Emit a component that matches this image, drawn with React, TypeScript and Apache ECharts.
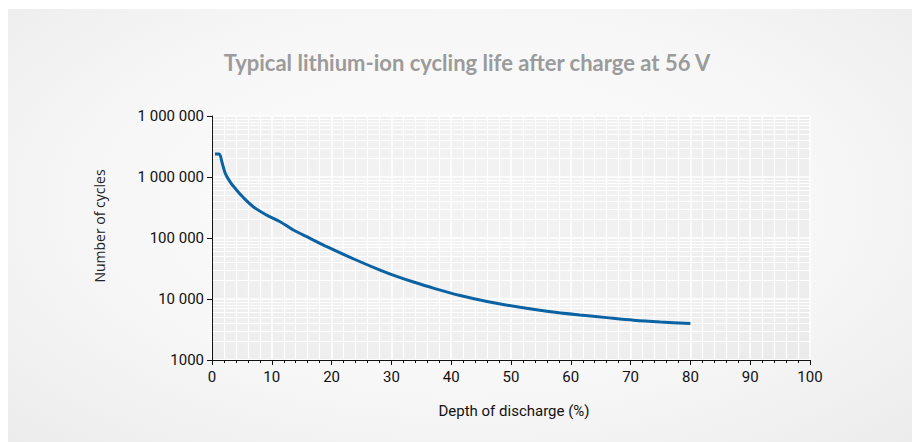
import React, { useEffect, useRef } from "react";
import * as echarts from "echarts";

const TITLE = "Typical lithium-ion cycling life after charge at 56 V";
const X_NAME = "Depth of discharge (%)";
const Y_NAME = "Number of cycles";

const dod = [0.5, 1.2, 1.7, 2.2, 3.0, 4.1, 5.2, 6.9, 9.1, 11.4, 13.6, 16.4, 19.2, 24, 28.1, 31, 33.7, 37, 41.5, 46, 51.5, 56, 61.5, 66, 70.5, 75, 80];
const cycles = [2380000, 2380000, 1700000, 1160000, 838000, 612000, 465000, 326000, 238000, 185000, 135000, 98800, 72000, 44000, 29800, 23300, 19000, 15100, 11400, 9100, 7300, 6300, 5470, 4950, 4500, 4200, 3950];

const yTickValues = [1000, 10000, 100000, 1000000, 10000000];
const yTickLabels = ["1000", "10 000", "100 000", "1 000 000", "1 000 000"];
const xTicks = [0, 10, 20, 30, 40, 50, 60, 70, 80, 90, 100];

const yMinorGrid: number[] = [];
for (let d = 1000; d < 1e7; d *= 10) {
  for (let k = 2; k <= 9; k++) yMinorGrid.push(d * k);
}

function yLabel(v: number): string {
  let best = 0;
  let bestDiff = Infinity;
  yTickValues.forEach((t, i) => {
    const diff = Math.abs(Math.log10(v) - Math.log10(t));
    if (diff < bestDiff) {
      bestDiff = diff;
      best = i;
    }
  });
  return bestDiff < 0.01 ? yTickLabels[best] : "";
}

export default function App() {
  const ref = useRef<HTMLDivElement>(null);
  useEffect(() => {
    document.body.style.margin = "0";
    if (!ref.current) return;
    const chart = echarts.init(ref.current, null, { renderer: "svg" });
    const tickFont = "Roboto, 'DejaVu Sans', sans-serif";
    const xMin = xTicks[0];
    const xMax = xTicks[xTicks.length - 1];
    chart.setOption({
      animation: false,
      grid: {
        left: 212,
        right: 102,
        top: 116,
        bottom: 82,
        show: true,
        backgroundColor: "rgba(0,0,0,0.035)",
        borderWidth: 0,
      },
      xAxis: {
        type: "value",
        min: xMin,
        max: xMax,
        interval: 10,
        axisLine: { show: true, onZero: false, lineStyle: { color: "#111", width: 1 } },
        axisTick: { show: true, length: 5, lineStyle: { color: "#111" } },
        minorTick: { show: true, splitNumber: 5, length: 3, lineStyle: { color: "#111" } },
        splitLine: { show: true, lineStyle: { color: "#ffffff", width: 1.5 } },
        minorSplitLine: { show: true, lineStyle: { color: "#ffffff", width: 1.2 } },
        axisLabel: { margin: 9, color: "#111", fontSize: 15, fontFamily: tickFont },
      },
      yAxis: {
        type: "log",
        logBase: 10,
        min: 1000,
        max: 10000000,
        axisLine: { show: true, lineStyle: { color: "#111", width: 1 } },
        axisTick: { show: true, length: 5, lineStyle: { color: "#111" } },
        splitLine: { show: true, lineStyle: { color: "#ffffff", width: 1.5 } },
        axisLabel: {
          margin: 8,
          color: "#111",
          fontSize: 15,
          fontFamily: tickFont,
          showMinLabel: true,
          showMaxLabel: true,
          formatter: (v: number) => yLabel(v),
        },
      },
      graphic: [
        {
          type: "text",
          x: 467,
          y: 62,
          style: {
            text: TITLE,
            textAlign: "center",
            textVerticalAlign: "middle",
            fill: "#9b9b9b",
            fontSize: 22,
            fontWeight: "bold",
            fontFamily: "Lato, 'Open Sans', sans-serif",
          },
        },
        {
          type: "text",
          x: 99,
          y: 226,
          rotation: Math.PI / 2,
          style: {
            text: Y_NAME,
            textAlign: "center",
            textVerticalAlign: "middle",
            fill: "#222",
            fontSize: 14,
            fontFamily: "'Open Sans', 'Noto Sans', sans-serif",
          },
        },
        {
          type: "text",
          x: 514,
          y: 411,
          style: {
            text: X_NAME,
            textAlign: "center",
            textVerticalAlign: "middle",
            fill: "#111",
            fontSize: 15,
            fontFamily: tickFont,
          },
        },
      ],
      series: [
        {
          type: "line",
          data: [],
          silent: true,
          markLine: {
            silent: true,
            symbol: ["none", "none"],
            label: { show: false },
            lineStyle: { color: "#ffffff", width: 1.2, type: "solid" },
            data: yMinorGrid.map((v) => [{ coord: [xMin + 0.15, v] }, { coord: [xMax, v] }]),
          },
          z: 1,
        },
        {
          type: "line",
          data: dod.map((x, i) => [x, cycles[i]]),
          smooth: 0.3,
          showSymbol: false,
          lineStyle: { color: "#0b62a3", width: 3 },
          z: 5,
        },
      ],
    });
    return () => chart.dispose();
  }, []);
  return (
    <div style={{ position: "fixed", left: 0, top: 0, width: 912, height: 442, background: "#ffffff" }}>
      <div
        style={{
          position: "absolute",
          left: 8,
          top: 9,
          right: 0,
          bottom: 0,
          background: "radial-gradient(ellipse at 50% 45%, #fcfcfc 0%, #f7f7f7 55%, #ececec 100%)",
        }}
      />
      <div ref={ref} style={{ position: "absolute", left: 0, top: 0, width: 912, height: 442 }} />
    </div>
  );
}
